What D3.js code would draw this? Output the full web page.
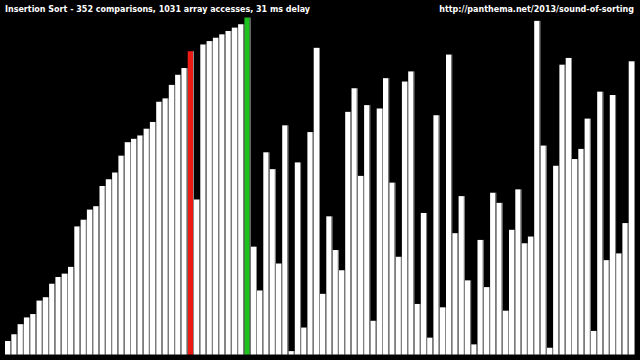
<!DOCTYPE html>
<html>
<head>
<meta charset="utf-8">
<script src="https://cdn.jsdelivr.net/npm/d3@7"></script>
<style>
  html, body { margin: 0; padding: 0; background: #000; }
  svg { display: block; }
</style>
</head>
<body>
<svg width="640" height="360"></svg>
<script>
// array contents, left to right (a permutation of 1..100)
const values = [
  4, 6, 9, 11, 12, 16, 17, 21, 23, 24, 26, 38, 40, 43, 44, 50, 52, 54, 59, 63,
  64, 65, 67, 69, 75, 76, 80, 83, 85, 90, 46, 92, 93, 94, 95, 96, 97, 98, 100, 32,
  19, 60, 55, 27, 68, 1, 57, 8, 66, 91, 18, 41, 31, 25, 72, 79, 53, 74, 10, 73,
  82, 51, 29, 81, 84, 15, 42, 5, 71, 14, 89, 36, 47, 22, 3, 34, 20, 48, 45, 13,
  37, 49, 33, 35, 99, 62, 2, 56, 86, 88, 58, 61, 70, 7, 78, 28, 77, 30, 39, 87
];
const redIndex = [29];
const greenIndex = [38];
const titleLeft = "Insertion Sort - 352 comparisons, 1031 array accesses, 31 ms delay";
const titleRight = "http://panthema.net/2013/sound-of-sorting";

let svg = d3.select("svg");
const W = +svg.attr("width");
const H = +svg.attr("height");

svg.append("rect").attr("width", W).attr("height", H).attr("fill", "#000");

let x = d3.scaleBand()
  .domain(d3.range(values.length))
  .range([5, 635])
  .padding(0);
let y = d3.scaleLinear()
  .domain([0, 100])
  .range([354.5, 17.5]);

function barColor(d, i) {
  if (redIndex.includes(i)) return "#ec1c14";
  if (greenIndex.includes(i)) return "#1ec21e";
  return "#ffffff";
}

svg.selectAll(".bar")
  .data(values)
  .enter().append("rect")
  .attr("class", "bar")
  .attr("x", (d, i) => x(i))
  .attr("y", d => y(d))
  .attr("width", x.bandwidth() - 1)
  .attr("height", d => y(0) - y(d))
  .attr("fill", barColor);

// thin grey separators on the bar edges
svg.selectAll(".edge")
  .data(values)
  .enter().append("rect")
  .attr("class", "edge")
  .attr("x", (d, i) => x(i) + x.bandwidth() - 1)
  .attr("y", d => y(d))
  .attr("width", 1)
  .attr("height", d => y(0) - y(d))
  .attr("fill", "#8c8c8c");

svg.append("text")
  .attr("x", 5)
  .attr("y", 12)
  .attr("fill", "#fff")
  .attr("font-family", "DejaVu Sans")
  .attr("font-weight", "bold")
  .attr("font-size", 8)
  .text(titleLeft);

svg.append("text")
  .attr("x", 634)
  .attr("y", 12)
  .attr("text-anchor", "end")
  .attr("fill", "#fff")
  .attr("font-family", "DejaVu Sans")
  .attr("font-weight", "bold")
  .attr("font-size", 8)
  .text(titleRight);
</script>
</body>
</html>
